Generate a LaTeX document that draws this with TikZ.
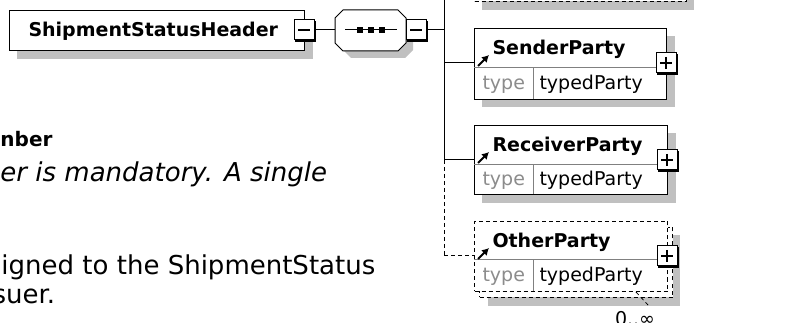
\documentclass[tikz,border=0pt]{standalone}
\usepackage{fontspec}
\setmainfont{DejaVu Sans}
\usetikzlibrary{arrows.meta}
\definecolor{shadowgray}{RGB}{192,192,192}
\definecolor{divgray}{RGB}{128,128,128}
\definecolor{typegray}{RGB}{140,140,140}
\newcommand{\xsbox}[4]{% name, x, y, sign (1=plus,0=minus)
  \fill[black] (#2-9,#3-9) rectangle (#2+12,#3+12);
  \node[sqbox] (#1) at (#2,#3) {};
  \draw[line width=1.2pt] (#2-6,#3) -- (#2+6,#3);
  \ifnum#4=1 \draw[line width=1.2pt] (#2,#3-6) -- (#2,#3+6);\fi
}
\begin{document}
\begin{tikzpicture}[x=1pt,y=-1pt,line width=1pt,
  shadowfill/.style={fill=shadowgray,draw=none},
  elbox/.style={draw=black,fill=white,line width=1pt,inner sep=0,anchor=north west},
  optdash/.style={dash pattern=on 4pt off 3pt},
  sqbox/.style={draw=black,fill=white,line width=1pt,minimum size=20pt,inner sep=0},
  divline/.style={draw=divgray,line width=1pt},
  lbl/.style={inner sep=0,anchor=base west,font=\fontsize{19}{22}\selectfont},
  namelbl/.style={lbl,font=\fontsize{19}{22}\selectfont\bfseries},
  typelbl/.style={lbl,text=typegray},
  reflink/.style={line width=2pt,-{Latex[length=7pt,width=8pt]}},
  bodytxt/.style={inner sep=0,anchor=base west,font=\fontsize{26}{30}\selectfont},
  headtxt/.style={inner sep=0,anchor=base west,font=\fontsize{20}{24}\selectfont\bfseries}]
\useasboundingbox (0,0) rectangle (809,323);
\fill[white] (0,0) rectangle (809,323);

% ---------- left text ----------
\node[headtxt] (t1) at (0,147) {nber};
\node[bodytxt,font=\fontsize{26}{30}\selectfont\itshape] (t2) at (0,182) {er is mandatory. A single};
\node[bodytxt] (t3) at (1,275) {igned to the ShipmentStatus};
\node[bodytxt] (t4) at (-8,304) {suer.};

% ---------- shadows ----------
\fill[shadowfill] (17,19) rectangle (313,59);
\fill[shadowfill] (351,18) -- (405,18) -- (413,26) -- (413,50) -- (405,58) -- (351,58) -- (343,50) -- (343,26) -- cycle;
\fill[shadowfill] (482,-52) rectangle (694,10);
\fill[shadowfill] (482,36) rectangle (675,107);
\fill[shadowfill] (482,133) rectangle (676,203);
\fill[shadowfill] (488,235) rectangle (680,306);

% ---------- header ----------
\node[elbox,minimum width=295pt,minimum height=40pt] (hdr) at (9,10) {};
\node[namelbl] (hdrtxt) at (28,37) {ShipmentStatusHeader};
\xsbox{hdrm}{304}{30}{0}

% ---------- sequence compositor ----------
\node[inner sep=0,minimum width=70pt,minimum height=40pt,anchor=north west] (seq) at (335,10) {};
\draw[fill=white] ([xshift=8pt]seq.north west) -- ([xshift=-8pt]seq.north east)
  -- ([yshift=-8pt]seq.north east) -- ([yshift=8pt]seq.south east)
  -- ([xshift=-8pt]seq.south east) -- ([xshift=8pt]seq.south west)
  -- ([yshift=8pt]seq.south west) -- ([yshift=-8pt]seq.north west) -- cycle;
\draw (345,30) -- (397,30);
\fill (357,27) rectangle (363,33);
\fill (368,27) rectangle (374,33);
\fill (379,27) rectangle (385,33);
\xsbox{seqm}{416}{30}{0}

% ---------- bus ----------
\coordinate (bustop) at (444,0);
\coordinate (bus1) at (444,30);
\coordinate (busS) at (444,63);
\coordinate (busR) at (444,160);
\coordinate (busO) at (444,256);
\draw (hdrm.east) -- (hdrm.east -| seq.west);
\draw (seqm.east) -- (bus1);
\draw (bustop) -- (busR);
\draw[optdash] (busR) -- (busO);

% ---------- top (cut-off) optional element ----------
\node[elbox,optdash,minimum width=212pt,minimum height=61pt] (topel) at (474,-60) {};

% ---------- SenderParty ----------
\node[elbox,minimum width=192pt,minimum height=71pt] (sender) at (474,28) {};
\draw[divline] (474,68) -- (666,68);
\draw[divline] (533,68) -- (533,99);
\node[namelbl] (sendername) at (492,55) {SenderParty};
\node[typelbl] (sendertype) at (482,90) {type};
\node[lbl] (sendertv) at (539,90) {typedParty};
\draw[reflink] (478,66) -- (489,55);
\xsbox{senderp}{666}{63}{1}
\draw (busS) -- (busS -| sender.west);

% ---------- ReceiverParty ----------
\node[elbox,minimum width=193pt,minimum height=69pt] (receiver) at (474,125) {};
\draw[divline] (474,165) -- (667,165);
\draw[divline] (533,165) -- (533,194);
\node[namelbl] (receivername) at (492,152) {ReceiverParty};
\node[typelbl] (receivertype) at (482,186) {type};
\node[lbl] (receivertv) at (539,186) {typedParty};
\draw[reflink] (478,163) -- (489,152);
\xsbox{receiverp}{667}{160}{1}
\draw (busR) -- (busR -| receiver.west);

% ---------- OtherParty (0..unbounded) ----------
\node[elbox,optdash,minimum width=193pt,minimum height=70pt] (otherback) at (479,227) {};
\node[elbox,optdash,minimum width=193pt,minimum height=70pt] (other) at (474,221) {};
\draw[divline] (474,260) -- (667,260);
\draw[divline] (533,260) -- (533,291);
\node[namelbl] (othername) at (492,248) {OtherParty};
\node[typelbl] (othertype) at (482,282) {type};
\node[lbl] (othertv) at (539,282) {typedParty};
\draw[reflink] (478,259) -- (489,248);
\xsbox{otherp}{667}{256}{1}
\draw[optdash] (busO) -- (busO -| other.west);
\coordinate (occA) at (636,292);
\coordinate (occB) at (648,305);
\draw[optdash,line width=0.8pt] (occA) -- (occB);
\node[lbl,anchor=base] (occ) at (635,326) {0..∞};
\end{tikzpicture}
\end{document}
